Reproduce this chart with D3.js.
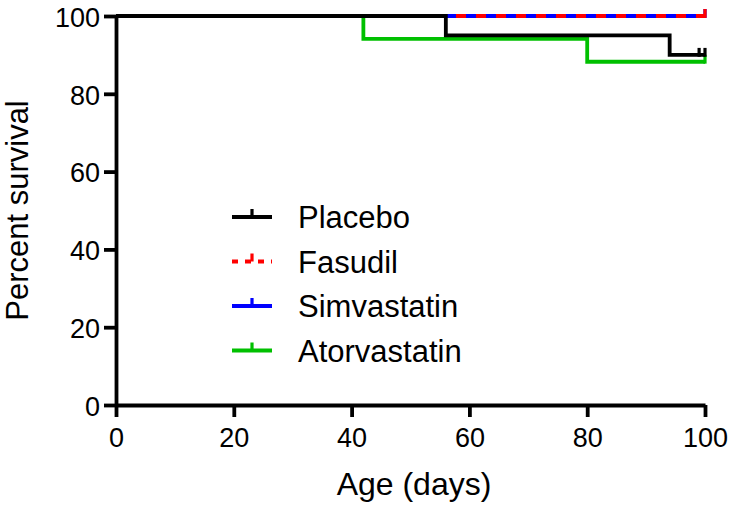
<!DOCTYPE html>
<html>
<head>
<meta charset="utf-8">
<script src="https://cdn.jsdelivr.net/npm/d3@7"></script>
<style>
  html, body { margin: 0; padding: 0; background: #fff; }
  svg { display: block; font-family: "Liberation Sans", Arial, sans-serif; }
</style>
</head>
<body>
<svg id="chart" width="733" height="505"></svg>
<script>
// ---- Data ----
const seriesNames = ["Placebo", "Fasudil", "Simvastatin", "Atorvastatin"];
const seriesColors = ["#000000", "#ff0000", "#0000ff", "#00c000"];

const placeboTimes = [0, 56, 94, 100];
const placeboSurv = [100, 95, 90, 90];
const placeboCensor = [99, 100];

const fasudilTimes = [0, 100];
const fasudilSurv = [100, 100];
const fasudilCensor = [100];

const simvastatinTimes = [0, 100];
const simvastatinSurv = [100, 100];
const simvastatinCensor = [100];

const atorvastatinTimes = [0, 42, 80, 100];
const atorvastatinSurv = [100, 94.12, 88.24, 88.24];
const atorvastatinCensor = [100];

const xTicks = [0, 20, 40, 60, 80, 100];
const yTicks = [0, 20, 40, 60, 80, 100];

// ---- Layout ----
const svg = d3.select("#chart");
const mLeft = 116, mRight = 705, mTop = 16, mBottom = 405;
const x = d3.scaleLinear().domain([0, 100]).range([mLeft, mRight]);
const y = d3.scaleLinear().domain([0, 100]).range([mBottom, mTop]);

function build(times, surv, censor, name, color, dash) {
  return { name, color, dash, pts: times.map((t, i) => [t, surv[i]]), times, surv, censor };
}
const series = [
  build(atorvastatinTimes, atorvastatinSurv, atorvastatinCensor, "Atorvastatin", seriesColors[3], null),
  build(simvastatinTimes, simvastatinSurv, simvastatinCensor, "Simvastatin", seriesColors[2], null),
  build(fasudilTimes, fasudilSurv, fasudilCensor, "Fasudil", seriesColors[1], "10,10"),
  build(placeboTimes, placeboSurv, placeboCensor, "Placebo", seriesColors[0], null)
];

function survAt(s, t) {
  let v = s.surv[0];
  for (let i = 0; i < s.times.length; i++) if (s.times[i] <= t) v = s.surv[i];
  return v;
}

const line = d3.line().x(d => x(d[0])).y(d => y(d[1])).curve(d3.curveStepAfter);
const lw = 3.8;

const g = svg.append("g");
series.forEach(s => {
  g.append("path")
    .attr("d", line(s.pts))
    .attr("fill", "none")
    .attr("stroke", s.color)
    .attr("stroke-width", lw)
    .attr("stroke-dasharray", s.dash)
    .attr("stroke-linejoin", "miter");
  s.censor.forEach(t => {
    const v = survAt(s, t);
    g.append("line")
      .attr("x1", x(t)).attr("x2", x(t))
      .attr("y1", y(v) + lw / 2).attr("y2", y(v) - 7)
      .attr("stroke", s.color).attr("stroke-width", 3.2);
  });
});

// ---- Axes ----
const fontSize = 27;
const xAxis = svg.append("g")
  .attr("transform", `translate(0,${mBottom})`)
  .call(d3.axisBottom(x).tickValues(xTicks).tickSize(12).tickSizeOuter(0).tickPadding(11));
const yAxis = svg.append("g")
  .attr("transform", `translate(${mLeft},0)`)
  .call(d3.axisLeft(y).tickValues(yTicks).tickSize(12).tickSizeOuter(0).tickPadding(4));

[xAxis, yAxis].forEach(a => {
  a.select(".domain").attr("stroke", "#000").attr("stroke-width", 3.8);
  a.selectAll(".tick line").attr("stroke", "#000").attr("stroke-width", 3.8);
  a.selectAll(".tick text")
    .attr("font-size", fontSize)
    .attr("font-family", "'Liberation Sans', Arial, sans-serif")
    .attr("fill", "#000");
});
yAxis.selectAll(".tick text").attr("dy", "0.38em");

// ---- Axis titles ----
svg.append("text")
  .attr("x", 414).attr("y", 495)
  .attr("text-anchor", "middle")
  .attr("font-size", 32)
  .attr("fill", "#000")
  .text("Age (days)");

svg.append("text")
  .attr("transform", `translate(28,${(mTop + mBottom) / 2}) rotate(-90)`)
  .attr("text-anchor", "middle")
  .attr("font-size", 31)
  .attr("fill", "#000")
  .text("Percent survival");

// ---- Legend ----
const legendDash = [null, "6,7", null, null];
const leg = svg.append("g");
seriesNames.forEach((name, i) => {
  const ly = 217 + i * 44.5;
  leg.append("line")
    .attr("x1", 232).attr("x2", 272)
    .attr("y1", ly).attr("y2", ly)
    .attr("stroke", seriesColors[i]).attr("stroke-width", lw)
    .attr("stroke-dasharray", legendDash[i]);
  leg.append("line")
    .attr("x1", 252).attr("x2", 252)
    .attr("y1", ly).attr("y2", ly - 8)
    .attr("stroke", seriesColors[i]).attr("stroke-width", 3.2);
  leg.append("text")
    .attr("x", 298).attr("y", ly + 11)
    .attr("font-size", 31)
    .attr("fill", "#000")
    .text(name);
});
</script>
</body>
</html>
